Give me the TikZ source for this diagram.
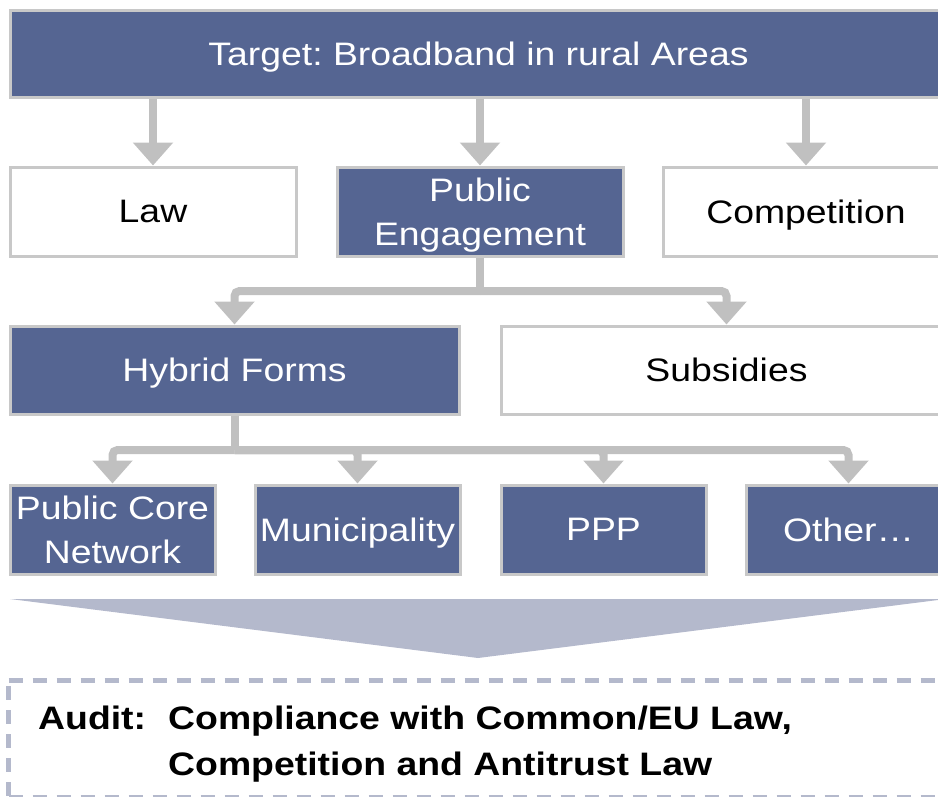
\documentclass[tikz,border=0pt]{standalone}
\usepackage{fontspec}
\setmainfont{Liberation Sans}[FakeStretch=1.15]
\usetikzlibrary{arrows.meta}
\definecolor{boxblue}{RGB}{85,101,146}
\definecolor{boxline}{RGB}{200,200,200}
\definecolor{conngray}{RGB}{192,192,192}
\definecolor{lavgray}{RGB}{180,185,204}
\frenchspacing
\begin{document}
\begin{tikzpicture}[x=1pt,y=-1pt,
  base/.style={draw=boxline, line width=3pt, inner sep=0pt,
    font=\fontsize{32.5}{44.5}\selectfont, text depth=0pt, align=center},
  bluebox/.style={base, fill=boxblue, text=white},
  whitebox/.style={base, fill=white, text=black},
  connline/.style={draw=conngray, line width=8pt},
  conn/.style={connline, rounded corners=5pt, -{Triangle[width=39pt,length=23pt]}},
]
\useasboundingbox (0,0) rectangle (938,796);
\clip (0,0) rectangle (938,796);

% top bar
\node[bluebox, minimum width=937pt, minimum height=87pt] (top) at (478.5,53.5) {Target: Broadband in rural Areas};

% row 2
\node[whitebox, minimum width=286pt, minimum height=89pt] (law) at (153,211.5) {Law};
\node[bluebox, minimum width=286pt, minimum height=89pt] (pe) at (480,211.5) {Public\\Engagement};
\node[whitebox, minimum width=286pt, minimum height=89pt] (comp) at (806,211.5) {Competition};

% row 3
\node[bluebox, minimum width=449pt, minimum height=88pt] (hf) at (234.5,370) {Hybrid Forms};
\node[whitebox, minimum width=451pt, minimum height=88pt] (sub) at (726.5,370) {Subsidies};

% row 4
\node[bluebox, minimum width=205pt, minimum height=89pt] (pcn) at (112.5,529.5) {Public Core\\Network};
\node[bluebox, minimum width=205pt, minimum height=89pt] (mun) at (357.5,529.5) {Municipality};
\node[bluebox, minimum width=205pt, minimum height=89pt] (ppp) at (603.5,529.5) {PPP};
\node[bluebox, minimum width=205pt, minimum height=89pt] (oth) at (848.5,529.5) {Other\ldots};

% connectors from top bar
\draw[conn] (law.north |- top.south) -- (law.north);
\draw[conn] (pe.north |- top.south) -- (pe.north);
\draw[conn] (comp.north |- top.south) -- (comp.north);

% connectors from public engagement
\coordinate (j1) at (pe.south |- 0,291);
\draw[connline] (pe.south) -- (j1);
\draw[conn] (j1) -| (hf.north);
\draw[conn] (j1) -| (sub.north);

% connectors from hybrid forms
\coordinate (j2) at (hf.south |- 0,450);
\draw[connline] (hf.south) -- (j2);
\draw[conn] (j2) -| (pcn.north);
\draw[conn] (j2) -| (mun.north);
\draw[conn] (j2) -| (ppp.north);
\draw[conn] (j2) -| (oth.north);

% big downward chevron
\fill[lavgray] (10,599) -- (946,599) -- (478,658) -- cycle;

% dashed audit box
\draw[lavgray, line width=5pt, dash pattern=on 14pt off 10pt] (8.5,680) -- (970,680);
\draw[lavgray, line width=5pt, dash pattern=on 14pt off 10pt] (8.5,686) -- (8.5,796);
\draw[lavgray, line width=3pt, dash pattern=on 14pt off 10pt] (8.5,796) -- (970,796);

\node[anchor=base west, inner sep=0pt, font=\fontsize{32.5}{46}\selectfont\bfseries] (audit) at (38,729)
  {\begin{tabular}[t]{@{}p{130pt}@{}l@{}}Audit: & Compliance with Common/EU Law,\\ & Competition and Antitrust Law\end{tabular}};
\end{tikzpicture}
\end{document}
